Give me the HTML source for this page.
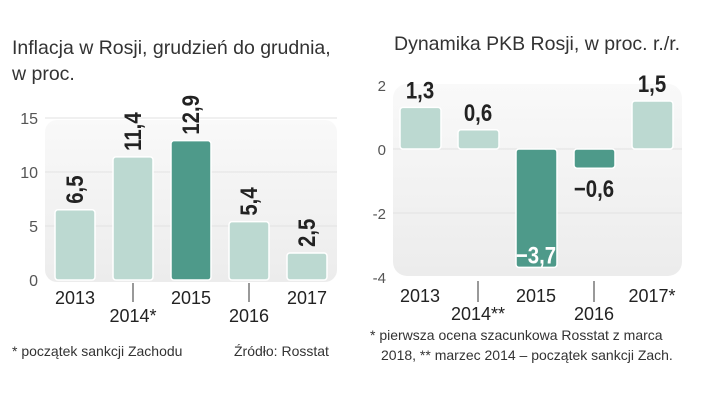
<!DOCTYPE html>
<html><head><meta charset="utf-8"><style>
body{margin:0;background:#fff;font-family:"Liberation Sans",sans-serif;}
svg text{font-family:"Liberation Sans",sans-serif;}
</style></head><body>
<svg width="721" height="406" viewBox="0 0 721 406" xmlns="http://www.w3.org/2000/svg">
<defs>
<linearGradient id="pg" x1="0" y1="0" x2="0" y2="1"><stop offset="0" stop-color="#f9f9f9"/><stop offset="1" stop-color="#ececec"/></linearGradient>
</defs>
<text x="12" y="54" font-size="19.5" fill="#333">Inflacja w Rosji, grudzień do grudnia,</text>
<text x="12" y="80" font-size="19.5" fill="#333">w proc.</text>
<text x="394" y="50" font-size="19.5" fill="#333">Dynamika PKB Rosji, w proc. r./r.</text>
<rect x="45" y="120" width="292" height="162" rx="12" fill="url(#pg)"/>
<rect x="393" y="84" width="289" height="192" rx="14" fill="url(#pg)"/>
<g id="left"></g><g id="right"></g>
<text x="12" y="356" font-size="14" fill="#333">* początek sankcji Zachodu</text>
<text x="234" y="356" font-size="14" fill="#333">Źródło: Rosstat</text>
<text x="370" y="340" font-size="14" fill="#333">* pierwsza ocena szacunkowa Rosstat z marca</text>
<text x="381" y="360" font-size="14" fill="#333">2018, ** marzec 2014 – początek sankcji Zach.</text>
</svg>
<script>
const NS="http://www.w3.org/2000/svg";
const leftCats=["2013","2014*","2015","2016","2017"];
const leftVals=[6.5,11.4,12.9,5.4,2.5];
const leftTicks=[0,5,10,15];
const rightCats=["2013","2014**","2015","2016","2017*"];
const rightVals=[1.3,0.6,-3.7,-0.6,1.5];
const rightTicks=[-4,-2,0,2];
function mk(p,t,a,txt){const e=document.createElementNS(NS,t);for(const k in a)e.setAttribute(k,a[k]);if(txt!=null)e.textContent=txt;p.appendChild(e);return e;}
const fmt=v=>(v<0?"−":"")+Math.abs(v).toFixed(1).replace(".",",");
// left
const L=document.getElementById("left");
const ly=v=>280-v*10.8, lx=i=>55+i*58;
leftTicks.forEach(t=>{
 if(t>0){const g=mk(L,"line",{x1:45,x2:337,y1:ly(t),y2:ly(t),stroke:"#e2e2e2"});}
 const e=mk(L,"text",{x:38,y:ly(t)+6,"font-size":16,fill:"#555","text-anchor":"end"},t);
 
});
leftVals.forEach((v,i)=>{
 const dark=leftCats[i]==="2015";
 const b=mk(L,"rect",{x:lx(i),y:ly(v),width:40,height:280-ly(v),rx:3,fill:dark?"#4e9a8a":"#bcd9d1",stroke:"#fff","stroke-width":1.5});
 
 const tx=lx(i)+28, ty=ly(v)-6;
 const l=mk(L,"text",{x:0,y:0,"font-size":24,"font-weight":"bold",fill:"#222",transform:`translate(${tx} ${ty}) rotate(-90) scale(0.85 1)`},fmt(v));
 
 const st=i%2===1;
 if(st){const tk=mk(L,"line",{x1:lx(i)+20,x2:lx(i)+20,y1:283,y2:302,stroke:"#333"});}
 const c=mk(L,"text",{x:lx(i)+20,y:st?322:304,"font-size":18,fill:"#222","text-anchor":"middle"},leftCats[i]);
 
});
// right
const R=document.getElementById("right");
const ry=v=>149-v*32, rx=i=>400+i*58;
rightTicks.forEach(t=>{
 if(t>-4&&t<2){const g=mk(R,"line",{x1:393,x2:682,y1:ry(t),y2:ry(t),stroke:"#e2e2e2"});}
 const e=mk(R,"text",{x:386,y:ry(t)+6,"font-size":15,fill:"#555","text-anchor":"end"},t);
 
});
rightVals.forEach((v,i)=>{
 const y0=Math.min(ry(v),ry(0)), h=Math.abs(ry(v)-ry(0));
 const b=mk(R,"rect",{x:rx(i),y:y0,width:41,height:h,rx:3,fill:v<0?"#4e9a8a":"#bcd9d1",stroke:"#fff","stroke-width":1.5});
 
 let ty, col="#222";
 if(v>=0) ty=ry(v)-9; else if(v<-2){ty=ry(v)-4;col="#fff";} else ty=ry(v)+29;
 const l=mk(R,"text",{x:0,y:0,"font-size":24,"font-weight":"bold",fill:col,"text-anchor":"middle",transform:`translate(${rx(i)+20} ${ty}) scale(0.85 1)`},fmt(v));
 
 const st=i%2===1;
 if(st){const tk=mk(R,"line",{x1:rx(i)+20,x2:rx(i)+20,y1:281,y2:302,stroke:"#333"});}
 const c=mk(R,"text",{x:rx(i)+20,y:st?320:302,"font-size":18,fill:"#222","text-anchor":"middle"},rightCats[i]);
 
});
</script>
</body></html>
